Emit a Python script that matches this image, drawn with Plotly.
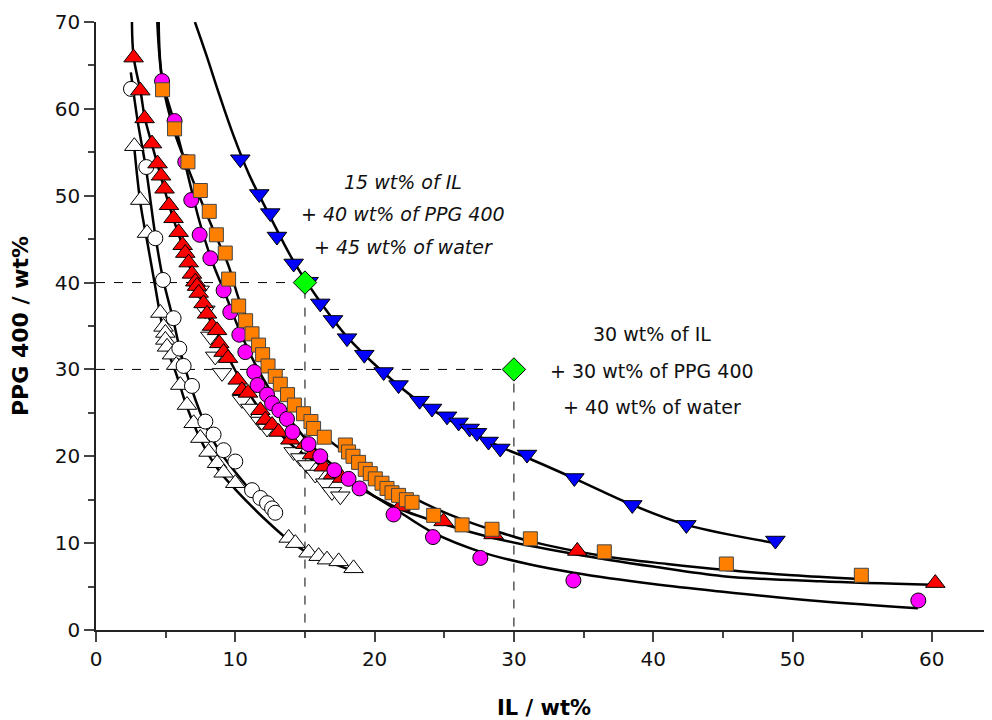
import plotly.graph_objects as go

# ---------------- data ----------------
blue_x = [10.36, 11.72, 12.51, 12.99, 14.19, 15.26, 16.10, 17.01, 18.02, 19.26, 20.65, 21.72,
          23.23, 24.12, 25.20, 26.03, 26.82, 27.35, 28.18, 29.02, 30.94, 34.34, 38.50, 42.38, 48.77]
blue_y = [54.2, 50.2, 48.0, 45.3, 42.2, 40.1, 37.6, 35.7, 33.6, 31.7, 29.7, 28.2,
          26.4, 25.5, 24.6, 23.9, 23.2, 22.7, 21.7, 20.9, 20.2, 17.5, 14.4, 12.1, 10.3]

orange_x = [4.78, 5.64, 6.60, 7.49, 8.13, 8.64, 9.28, 9.52, 10.24, 10.74, 11.20, 11.67, 11.96,
            12.35, 12.87, 13.23, 13.75, 14.24, 14.90, 15.43, 15.62, 16.39, 17.90, 18.13, 18.45,
            18.85, 19.33, 19.69, 20.05, 20.53, 20.89, 21.25, 21.72, 22.28, 22.69, 24.24, 26.28,
            28.43, 31.18, 36.49, 45.25, 54.94]
orange_y = [62.2, 57.7, 53.9, 50.6, 48.2, 45.5, 43.4, 40.4, 37.3, 35.6, 34.1, 32.8, 31.7,
            30.4, 29.2, 28.3, 27.1, 25.9, 24.9, 24.0, 23.2, 22.2, 21.3, 20.5, 20.0,
            19.3, 18.5, 18.0, 17.4, 16.9, 16.3, 15.8, 15.5, 15.0, 14.7, 13.2, 12.1,
            11.6, 10.5, 9.0, 7.6, 6.3]

magenta_x = [4.74, 5.64, 6.41, 6.84, 7.44, 8.21, 9.16, 9.64, 10.29, 10.72, 11.36, 11.60, 12.28,
             12.64, 13.16, 13.71, 14.11, 15.26, 16.10, 17.11, 18.13, 18.92, 21.36, 24.19, 27.59,
             34.27, 59.03]
magenta_y = [63.2, 58.6, 53.9, 49.5, 45.5, 42.8, 39.1, 36.6, 34.0, 32.0, 29.7, 28.2, 27.1,
             26.1, 25.3, 24.3, 22.8, 21.4, 20.0, 18.4, 17.4, 16.3, 13.3, 10.7, 8.3,
             5.7, 3.4]

red_x = [2.70, 3.18, 3.49, 4.02, 4.42, 4.67, 4.92, 5.24, 5.57, 5.93, 6.22, 6.41, 6.65, 6.89,
         7.13, 7.25, 7.37, 7.72, 7.97, 8.33, 8.69, 8.85, 9.16, 9.48, 10.17, 10.48, 10.91, 11.80,
         12.15, 12.64, 13.11, 13.95, 15.03, 15.51, 16.34, 17.01, 17.66, 21.85, 24.95, 28.54,
         34.55, 60.25]
red_y = [65.9, 62.1, 58.9, 56.0, 53.7, 52.3, 50.8, 48.9, 47.4, 45.8, 44.3, 43.4, 42.3, 41.0,
         40.1, 39.6, 38.8, 37.6, 36.4, 35.0, 34.5, 33.0, 32.0, 31.3, 28.8, 27.6, 27.3, 25.3,
         24.2, 23.6, 22.8, 21.9, 21.4, 20.2, 18.8, 17.9, 17.5, 14.2, 12.5, 11.0,
         9.1, 5.4]

wdown_x = [7.44, 7.85, 8.21, 8.56, 9.05, 10.48, 11.08, 11.80, 12.28, 14.19, 14.67, 15.15,
           15.74, 16.46, 16.94, 17.54]
wdown_y = [39.1, 36.8, 33.8, 31.5, 29.6, 26.5, 25.5, 24.0, 23.2, 20.5, 19.8, 19.0,
           17.9, 16.9, 15.9, 15.4]

wcirc_x = [2.51, 3.61, 4.26, 4.81, 5.57, 5.98, 6.29, 6.89, 7.85, 8.44, 9.16, 10.00, 11.20,
           11.80, 12.28, 12.64, 12.87]
wcirc_y = [62.3, 53.3, 45.1, 40.3, 35.9, 32.4, 30.4, 28.1, 24.0, 22.5, 20.7, 19.4, 16.1,
           15.2, 14.6, 14.0, 13.5]

wup_x = [2.75, 3.18, 3.66, 4.62, 4.85, 4.98, 4.98, 5.10, 5.46, 5.76, 6.05, 6.53, 7.01, 7.49,
         8.08, 8.69, 9.16, 10.00, 13.83, 14.31, 15.26, 15.98, 16.58, 17.42, 18.49]
wup_y = [55.7, 49.5, 45.7, 36.5, 34.9, 34.2, 33.4, 32.6, 31.7, 30.5, 28.2, 25.9, 23.8, 22.1,
         20.5, 19.2, 18.1, 16.9, 10.6, 10.0, 8.9, 8.5, 8.1, 7.9, 7.1]

mix_x = [15, 30]          # green diamonds: IL wt%
mix_y = [40, 30]          # PPG 400 wt%

# fitted binodal curves
blue_cx = [7.1, 7.9, 8.9, 9.9, 11.0, 12.5, 14.2, 16.0, 18.0, 20.6, 23.2, 26.0, 29.0, 31.0,
           34.4, 38.5, 42.4, 48.8]
blue_cy = [70, 66.3, 61.4, 56.8, 52.4, 47.6, 42.4, 38.0, 33.8, 29.7, 26.3, 23.6, 21.1, 19.8,
           17.4, 14.4, 12.1, 10.0]

orange_cx = [4.40, 4.75, 5.6, 6.6, 7.5, 8.6, 9.5, 10.3, 11.2, 12.0, 12.9, 13.8, 14.9, 16.4,
             18.0, 19.5, 21.0, 22.7, 24.5, 26.5, 28.5, 31.2, 36.5, 41.0, 45.25, 50.0, 54.5]
orange_cy = [70, 63.3, 57.5, 53.2, 49.6, 45.4, 42.0, 37.9, 34.6, 31.9, 29.3, 27.0, 24.8, 22.3,
             20.3, 18.5, 16.9, 15.3, 13.9, 12.6, 11.5, 10.2, 8.5, 7.6, 6.9, 6.3, 5.9]

magenta_cx = [4.50, 4.74, 5.64, 6.5, 7.4, 8.3, 9.3, 10.3, 11.4, 12.5, 13.7, 15.0, 16.4, 18.0,
              19.8, 21.5, 24.2, 27.6, 31.0, 34.3, 40.0, 45.0, 52.0, 59.0]
magenta_cy = [70, 63.6, 58.3, 53.0, 47.2, 42.6, 38.6, 34.5, 30.7, 27.6, 24.7, 22.1, 19.8, 17.7,
              15.6, 13.9, 11.2, 9.0, 7.6, 6.6, 5.3, 4.4, 3.3, 2.5]

red_cx = [2.58, 2.7, 3.2, 3.5, 4.0, 4.4, 4.9, 5.5, 6.2, 6.9, 7.6, 8.4, 9.3, 10.3, 11.5, 12.8,
          14.2, 15.7, 17.5, 19.5, 21.85, 24.95, 28.5, 34.5, 40.0, 45.0, 52.0, 60.0]
red_cy = [70, 66.0, 62.0, 59.0, 56.0, 53.7, 50.8, 47.6, 44.3, 41.0, 37.9, 34.9, 32.0, 29.0,
          26.0, 23.3, 21.1, 19.4, 17.6, 15.8, 13.9, 12.2, 10.6, 8.7, 7.3, 6.2, 5.6, 5.2]

wcirc_cx = [2.5, 3.0, 3.6, 4.25, 4.8, 5.5, 6.1, 6.9, 7.85, 8.7, 9.6, 10.6, 11.6, 12.6, 13.0]
wcirc_cy = [64.2, 58.5, 53.0, 45.5, 40.5, 36.0, 31.8, 27.6, 23.6, 21.0, 19.0, 17.0, 15.0, 13.4, 12.8]

wup_cx = [2.75, 3.2, 3.7, 4.2, 4.7, 5.2, 5.8, 6.5, 7.2, 8.0, 8.9, 10.0, 11.2, 12.5, 13.8,
          15.2, 16.6, 18.3]
wup_cy = [55.5, 49.0, 44.5, 40.0, 35.5, 32.0, 29.3, 25.8, 23.0, 20.4, 18.2, 16.2, 14.2, 12.2,
          10.4, 8.9, 7.9, 6.9]

x_ticks = [0, 10, 20, 30, 40, 50, 60]
y_ticks = [0, 10, 20, 30, 40, 50, 60, 70]

# ---------------- figure ----------------
FONT = "DejaVu Sans"
fig = go.Figure()

# dashed guide lines to the two mixture points
for mx, my in zip(mix_x, mix_y):
    fig.add_trace(go.Scatter(x=[0, mx, mx], y=[my, my, 0], mode="lines",
                             line=dict(color="black", width=1, dash="dash"),
                             hoverinfo="skip", showlegend=False))

# fitted curves
for cx, cy in [(wup_cx, wup_cy), (wcirc_cx, wcirc_cy), (red_cx, red_cy),
               (magenta_cx, magenta_cy), (orange_cx, orange_cy), (blue_cx, blue_cy)]:
    fig.add_trace(go.Scatter(x=cx, y=cy, mode="lines",
                             line=dict(color="black", width=2.5, shape="spline", smoothing=1.0),
                             hoverinfo="skip", showlegend=False))

def pts(x, y, symbol, color, size, lc="black"):
    fig.add_trace(go.Scatter(x=x, y=y, mode="markers", showlegend=False,
                             marker=dict(symbol=symbol, color=color, size=size,
                                         line=dict(color=lc, width=1))))

pts(wup_x, wup_y, "triangle-up", "white", 17)
pts(wcirc_x, wcirc_y, "circle", "white", 15)
pts(wdown_x, wdown_y, "triangle-down", "white", 17)
pts(red_x, red_y, "triangle-up", "#FF0000", 17)
pts(magenta_x, magenta_y, "circle", "#FF00FF", 15)
pts(orange_x, orange_y, "square", "#FF8000", 14, "#444444")
pts(blue_x, blue_y, "triangle-down", "#0000FF", 17)
pts(mix_x, mix_y, "diamond", "#00FF00", 18)

ann_italic = ["15 wt% of IL", "+ 40 wt% of PPG 400", "+ 45 wt% of water"]
ann_italic_y = [51.6, 47.85, 44.05]
ann_plain = ["30 wt% of IL", "+ 30 wt% of PPG 400", "+ 40 wt% of water"]
ann_plain_y = [34.1, 29.85, 25.7]
for t, yy in zip(ann_italic, ann_italic_y):
    fig.add_annotation(x=22.06, y=yy, text=t, showarrow=False,
                       font=dict(family=FONT, size=19, color="#111111", style="italic"))
for t, yy in zip(ann_plain, ann_plain_y):
    fig.add_annotation(x=39.94, y=yy, text=t, showarrow=False,
                       font=dict(family=FONT, size=19, color="#111111"))

axis_common = dict(showgrid=False, zeroline=False, showline=True, linecolor="#222222",
                   linewidth=1.5, ticks="outside", ticklen=10, tickwidth=1.5,
                   tickcolor="#444444", automargin=False,
                   tickfont=dict(family=FONT, size=20, color="#111111"),
                   minor=dict(dtick=5, ticks="outside", ticklen=6, tickwidth=1.5,
                              tickcolor="#444444", showgrid=False))

fig.update_xaxes(range=[0, 64.32], tickmode="array", tickvals=x_ticks,
                 ticktext=[str(v) for v in x_ticks],
                 title=dict(text="IL / wt%", standoff=36,
                            font=dict(family=FONT, size=21, color="black", weight="bold")),
                 **axis_common)
fig.update_yaxes(range=[0, 70], tickmode="array", tickvals=y_ticks,
                 ticktext=[str(v) for v in y_ticks],
                 title=dict(text="PPG 400 / wt%", standoff=20,
                            font=dict(family=FONT, size=22, color="black", weight="bold")),
                 **axis_common)

# the page places the figure 8 px from the top-left corner, so the figure is
# sized to fit the 992x720 window exactly
fig.update_layout(width=984, height=712, plot_bgcolor="white", paper_bgcolor="white",
                  margin=dict(l=88, r=0, t=14, b=90), showlegend=False)

fig.write_html("out.html")
